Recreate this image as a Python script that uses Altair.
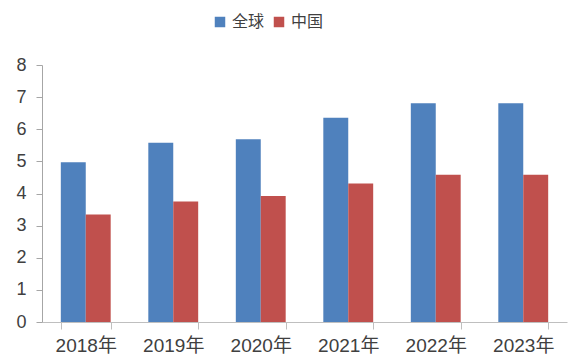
import altair as alt
import pandas as pd

years = ["2018年", "2019年", "2020年", "2021年", "2022年", "2023年"]
global_vals = [4.97, 5.58, 5.69, 6.36, 6.81, 6.81]
china_vals = [3.35, 3.75, 3.92, 4.31, 4.58, 4.58]
series = ["全球", "中国"]
colors = ["#4F81BD", "#C0504D"]

rows = []
for y, g, c in zip(years, global_vals, china_vals):
    rows.append({"year": y, "series": series[0], "value": g})
    rows.append({"year": y, "series": series[1], "value": c})
df = pd.DataFrame(rows)

FONT = "Liberation Sans, Noto Sans CJK SC, sans-serif"

chart = alt.Chart(df).mark_bar().encode(
    x=alt.X("year:N", sort=years, title=None,
            scale=alt.Scale(paddingInner=0.43, paddingOuter=0.215),
            axis=alt.Axis(labelAngle=0, tickBand="extent", tickSize=7,
                          labelPadding=7, labelFontSize=19,
                          labelColor="#404040", domainColor="#BFBFBF",
                          tickColor="#BFBFBF", labelFont=FONT)),
    xOffset=alt.XOffset("series:N", sort=series),
    y=alt.Y("value:Q", title=None,
            scale=alt.Scale(domain=[0, 8]),
            axis=alt.Axis(values=[0, 1, 2, 3, 4, 5, 6, 7, 8], tickSize=6,
                          labelPadding=10, labelFontSize=18, grid=False,
                          labelColor="#404040", domainColor="#A6A6A6",
                          tickColor="#A6A6A6", labelFont=FONT)),
    color=alt.Color("series:N", sort=series, title=None,
                    scale=alt.Scale(domain=series, range=colors),
                    legend=alt.Legend(orient="none", direction="horizontal",
                                      legendX=170, legendY=-51,
                                      symbolType="square", symbolSize=110,
                                      symbolStrokeWidth=0,
                                      labelFontSize=16, labelColor="#404040",
                                      labelFont=FONT, columnPadding=6,
                                      labelOffset=4)),
).properties(
    width=525, height=257,
    autosize=alt.AutoSizeParams(type="none"),
    padding={"left": 42, "top": 65, "right": 19, "bottom": 39},
).configure_view(stroke=None)

chart.save("out.html", embed_options={"renderer": "svg", "actions": False})
